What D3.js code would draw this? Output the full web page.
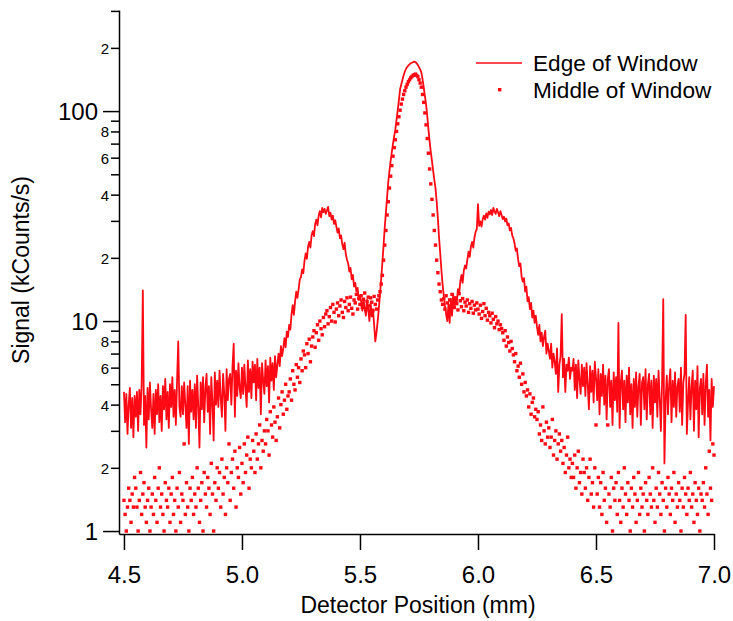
<!DOCTYPE html>
<html>
<head>
<meta charset="utf-8">
<script src="https://cdn.jsdelivr.net/npm/d3@7"></script>
<style>
  body { margin: 0; background: #fff; }
  text { font-family: "Liberation Sans", Arial, Helvetica, sans-serif; fill: #000; }
</style>
</head>
<body>
<svg id="chart" width="733" height="621"></svg>
<script>
// detector positie: start + stapgrootte (mm)
const xStart = 4.5;
const xStep = 0.005;

// Edge of Window (kCounts/s), een waarde per stap
const edgeWindow = [
  4.6,3.3,4.5,2.9,4.0,4.8,3.1,4.3,2.8,4.4,
  3.5,4.6,3.0,4.7,3.6,5.0,14.0,3.2,4.4,2.5,
  4.8,3.4,5.1,3.8,3.1,4.5,2.9,4.7,3.6,5.0,
  3.3,4.4,3.0,4.9,3.8,5.3,3.4,4.6,3.1,5.0,
  3.9,5.4,3.5,4.7,3.2,5.2,8.0,3.9,3.5,4.9,
  3.6,5.1,4.0,3.1,4.9,2.6,5.2,3.7,4.7,3.4,
  5.0,3.1,5.5,3.9,2.5,5.1,3.8,5.4,3.3,4.8,
  5.6,3.7,4.9,2.9,5.4,4.1,2.7,5.7,4.0,5.2,
  3.9,5.8,4.3,3.5,5.6,4.5,3.0,5.9,4.2,5.3,
  5.6,4.0,6.1,7.8,3.5,5.8,4.4,6.3,4.8,4.3,
  6.0,4.5,6.2,4.8,3.9,6.5,4.6,5.9,4.3,6.4,
  5.1,6.2,4.2,6.6,4.8,6.0,3.6,6.3,5.2,4.5,
  6.5,4.9,6.1,4.1,6.7,5.2,6.3,4.7,6.8,5.4,
  6.2,7.0,6.1,7.6,6.8,7.4,8.3,7.5,8.9,8.4,
  9.6,9.1,10.8,11.9,10.7,12.4,13.8,12.9,14.2,15.8,
  16.2,17.6,16.9,19.4,21.0,19.8,22.6,23.8,22.4,25.6,
  26.8,25.4,28.9,30.4,28.6,31.8,33.4,31.2,34.6,33.0,
  34.2,32.4,33.6,35.0,31.6,32.8,30.4,31.8,29.0,30.2,
  28.2,26.4,27.6,24.8,25.6,23.2,22.0,23.6,20.8,19.6,
  18.8,17.2,17.9,15.8,16.6,14.6,15.2,13.8,14.4,12.6,
  13.2,12.4,11.2,12.8,11.6,10.6,12.6,11.4,10.0,12.2,
  10.5,11.4,9.6,8.0,8.8,10.0,11.5,13.5,16.0,19.0,
  23,28,33,39,46,52,58,64,70,76,
  82,91,101,113,127,134,141,148,154,159,
  162,165,167,169,170,171,172,171,169,166,
  162,158,153,142,130,118,108,95,82,72,
  64,58,52,47,43,37,31,25,21,17.5,
  15.0,13.2,11.8,10.8,10.0,12.0,9.8,12.8,10.6,13.4,
  11.6,12.8,12.2,14.2,13.4,15.4,16.6,15.2,17.4,18.4,
  17.8,19.6,21.4,20.2,22.6,23.8,22.4,25.0,26.6,27.4,
  36.0,28.4,29.8,28.2,30.6,31.8,30.4,32.6,31.0,33.2,
  32.2,33.8,32.0,34.6,33.2,32.4,34.2,33.0,31.6,33.4,
  32.0,30.6,31.4,29.8,30.8,28.6,29.2,27.0,27.8,25.6,
  24.8,23.4,21.6,22.2,19.6,18.2,18.8,16.2,15.4,16.0,
  13.8,14.6,12.4,13.0,11.4,12.2,10.4,11.2,9.8,10.6,
  9.4,8.6,9.6,8.0,8.8,7.6,8.4,9.0,7.0,7.8,
  7.2,6.6,7.8,6.0,7.0,6.4,5.6,7.4,4.6,6.2,
  6.8,10.8,5.4,6.6,4.6,6.2,5.8,6.7,5.3,6.0,
  5.8,6.6,4.7,6.2,4.3,6.5,5.3,4.5,6.2,4.9,
  6.0,4.4,6.3,5.0,3.8,6.1,4.6,5.8,4.1,6.4,
  5.4,4.2,5.9,3.6,5.6,4.4,6.2,4.0,5.5,3.4,
  5.3,5.9,3.9,5.2,3.2,5.7,4.2,5.4,3.7,9.8,
  3.1,5.1,5.8,3.8,5.2,3.3,5.5,4.1,6.0,3.6,
  5.0,3.1,5.3,3.9,5.7,3.5,4.9,5.6,3.2,5.1,
  5.4,3.8,5.9,3.4,5.0,5.6,3.6,5.2,3.1,5.5,
  4.1,5.3,3.5,5.8,4.3,3.0,5.1,12.7,2.1,4.2,
  5.5,3.6,5.0,5.9,3.3,5.2,3.9,5.7,3.5,4.9,
  5.3,3.7,6.0,3.2,5.1,5.6,10.7,2.9,4.1,5.4,
  3.4,4.9,5.8,3.0,5.2,3.8,6.1,2.8,4.8,5.3,
  3.6,5.6,3.2,5.0,6.2,3.5,4.7,2.7,5.3,3.9,
  4.9
];

// Middle of Window (kCounts/s), zelfde posities
const middleWindow = [
  1.4,1.2,1.0,1.3,1.6,1.4,1.1,1.5,1.3,1.8,
  1.6,1.3,1.0,1.4,1.9,1.2,1.5,1.7,1.3,1.1,
  1.4,1.6,1.0,1.3,1.5,1.2,1.8,1.4,1.1,1.6,
  2.0,1.3,1.5,1.2,1.0,1.7,1.4,1.3,1.6,1.1,
  1.5,1.8,1.2,1.4,1.0,1.6,1.3,1.9,1.1,1.5,
  1.4,2.6,1.2,1.7,1.3,1.0,1.6,1.4,1.8,1.2,
  1.5,1.3,2.0,1.6,1.1,1.4,1.7,1.0,1.9,1.5,
  1.3,1.8,1.6,1.2,2.1,1.5,1.0,1.7,1.4,2.0,
  1.6,1.9,1.3,2.2,1.5,1.8,1.2,2.0,1.7,2.6,
  1.4,1.9,2.2,1.6,2.4,1.3,2.0,1.8,2.5,1.5,
  2.1,1.7,2.6,1.9,2.3,2.8,1.6,2.2,2.0,2.7,
  2.4,1.9,2.9,2.2,2.6,3.2,2.0,2.7,2.4,3.0,
  2.6,3.4,3.0,2.3,3.7,3.2,2.8,3.9,3.3,2.7,
  3.5,4.3,3.1,4.0,4.6,3.6,4.2,5.0,3.8,4.4,
  4.6,5.3,4.2,5.8,5.0,4.7,6.2,5.4,6.0,5.1,
  6.6,5.8,7.2,6.9,6.0,7.8,7.0,8.2,6.4,7.6,
  8.4,9.0,7.5,8.8,9.6,8.1,10.0,9.2,8.6,10.4,
  9.4,10.8,11.2,9.7,10.5,11.6,10.0,12.0,11.0,9.9,
  11.4,12.2,10.6,11.8,12.6,11.0,10.4,12.4,11.6,12.9,
  11.2,12.0,13.0,11.5,10.8,12.6,12.2,13.4,11.4,12.8,
  12.0,13.2,11.6,12.7,13.6,11.3,12.4,13.0,11.8,12.9,
  12.3,11.2,13.1,12.0,11.4,12.6,13.2,13.8,15.0,16.5,
  19.5,23.0,27.0,32.0,37.0,43.0,49.0,55.0,61.0,67.0,
  73,80,87,94,101,108,114,120,125,130,
  134,138,141,144,146,148,149,150,148,146,
  141,136,130,120,110,98,86,74,63,53,
  45,38,32,27,23,19.5,17.0,15.0,13.8,12.6,
  12.0,12.8,11.4,13.2,12.2,11.0,12.6,11.8,13.4,12.4,
  11.6,12.9,12.1,11.3,13.5,12.5,11.7,12.8,11.2,12.3,
  11.8,12.6,11.0,12.1,11.5,12.4,10.9,11.9,11.3,12.2,
  11.4,10.8,11.9,10.3,11.1,12.1,10.6,11.5,10.1,11.0,
  10.6,9.8,10.9,10.2,9.3,10.5,9.7,10.0,9.1,9.6,
  9.2,8.8,8.1,9.0,7.6,8.4,7.9,7.2,8.0,7.4,
  6.9,6.4,7.0,5.8,6.1,5.4,6.3,5.0,5.6,4.6,
  5.1,4.4,4.7,3.9,4.5,3.6,4.1,4.3,3.5,3.8,
  3.4,3.7,2.9,3.2,2.7,3.9,3.0,2.6,3.3,2.8,
  3.1,2.5,2.8,3.4,2.3,2.7,3.0,2.2,2.6,2.9,
  2.4,2.7,2.1,2.5,1.9,2.3,2.8,2.0,2.2,1.8,
  2.1,1.8,2.3,1.6,2.0,2.4,1.7,1.9,1.5,2.2,
  1.9,1.6,2.0,1.4,1.8,2.2,1.5,1.7,1.3,2.0,
  3.2,1.5,1.8,1.3,1.7,1.2,1.9,1.4,1.6,1.1,
  3.2,1.5,1.3,1.8,1.0,1.6,1.4,1.7,1.2,1.9,
  1.4,1.1,1.6,1.3,2.0,1.5,1.2,1.7,1.4,1.0,
  1.6,1.3,1.8,1.5,1.1,1.4,1.9,1.2,1.6,1.3,
  1.5,1.0,1.7,1.4,1.2,1.8,1.5,1.3,2.0,1.4,
  1.1,1.6,1.3,1.9,1.5,1.2,1.7,1.4,1.0,1.6,
  1.3,1.8,1.5,1.2,1.6,1.4,1.9,1.1,1.5,1.3,
  1.7,1.4,1.0,1.6,1.3,1.8,1.5,1.2,1.6,1.4,
  1.9,1.3,1.5,1.1,1.7,1.4,1.2,1.6,1.0,1.5,
  1.4,1.7,1.3,2.0,1.5,1.2,2.4,1.6,1.4,2.6,
  2.3
];

const xTicks = [4.5, 5.0, 5.5, 6.0, 6.5, 7.0];
const yMajor = [1, 10, 100];               // grote labels
const yLabelled = [2, 4, 6, 8, 20, 40, 60, 80, 200]; // kleine labels
const yMinor = [3, 5, 7, 9, 30, 50, 70, 90, 300];    // zonder label
const seriesNames = ['Edge of Window', 'Middle of Window'];

const red = '#ff0a14';
const svg = d3.select('#chart');

const x = d3.scaleLinear().domain([4.479, 7.0]).range([119, 714]);
const y = d3.scaleLog().domain([0.968, 303]).range([534, 10]);

const edgeData = edgeWindow.map((v, i) => ({ pos: xStart + i * xStep, v: v }));
const middleData = middleWindow.map((v, i) => ({ pos: xStart + i * xStep, v: v }));

// stippen (Middle of Window)
svg.append('g').selectAll('rect').data(middleData).join('rect')
  .attr('x', d => x(d.pos) - 1.7)
  .attr('y', d => y(d.v) - 1.7)
  .attr('width', 3.4)
  .attr('height', 3.4)
  .attr('fill', red);

// lijn (Edge of Window)
const line = d3.line().x(d => x(d.pos)).y(d => y(d.v));
svg.append('path').datum(edgeData)
  .attr('d', line)
  .attr('fill', 'none')
  .attr('stroke', red)
  .attr('stroke-width', 1.8)
  .attr('stroke-linejoin', 'round');

// y as (log, Igor-stijl)
const yAxis = d3.axisLeft(y)
  .tickValues([...yMajor, ...yLabelled, ...yMinor])
  .tickSize(8)
  .tickSizeOuter(0)
  .tickFormat(d => yMajor.includes(d) ? String(d) : (yLabelled.includes(d) ? String(d).charAt(0) : ''));

const gy = svg.append('g').attr('transform', 'translate(119,0)').call(yAxis);
gy.select('.domain').attr('stroke', '#000').attr('stroke-width', 1.5);
gy.selectAll('.tick line').attr('stroke', '#000').attr('stroke-width', 1.5);
gy.selectAll('.tick text').attr('x', -10).attr('dy', '0.36em').style('font-size', '15px');
gy.selectAll('.tick').filter(d => yMajor.includes(d)).select('line').attr('x2', -16);
gy.selectAll('.tick').filter(d => yMajor.includes(d)).select('text')
  .attr('x', -21).style('font-size', '24px');

// x as
const xAxis = d3.axisBottom(x)
  .tickValues(xTicks)
  .tickSize(16)
  .tickSizeOuter(0)
  .tickFormat(d3.format('.1f'));

const gx = svg.append('g').attr('transform', 'translate(0,534)').call(xAxis);
gx.select('.domain').attr('stroke', '#000').attr('stroke-width', 1.5);
gx.selectAll('.tick line').attr('stroke', '#000').attr('stroke-width', 1.5);
gx.selectAll('.tick text').attr('y', 49).attr('dy', 0).style('font-size', '24px');

// as titels
svg.append('text')
  .attr('x', 418).attr('y', 613)
  .attr('text-anchor', 'middle')
  .style('font-size', '23px')
  .text('Detector Position (mm)');

svg.append('text')
  .attr('transform', 'translate(29,270) rotate(-90)')
  .attr('text-anchor', 'middle')
  .style('font-size', '23px')
  .text('Signal (kCounts/s)');

// legenda
const legend = svg.append('g');
legend.append('line')
  .attr('x1', 476).attr('x2', 522).attr('y1', 63).attr('y2', 63)
  .attr('stroke', red).attr('stroke-width', 1.5);
legend.append('rect')
  .attr('x', 498).attr('y', 88).attr('width', 3.4).attr('height', 3.4)
  .attr('fill', red);
legend.selectAll('text').data(seriesNames).join('text')
  .attr('x', 533)
  .attr('y', (d, i) => i === 0 ? 71 : 98)
  .style('font-size', '22.6px')
  .text(d => d);
</script>
</body>
</html>
